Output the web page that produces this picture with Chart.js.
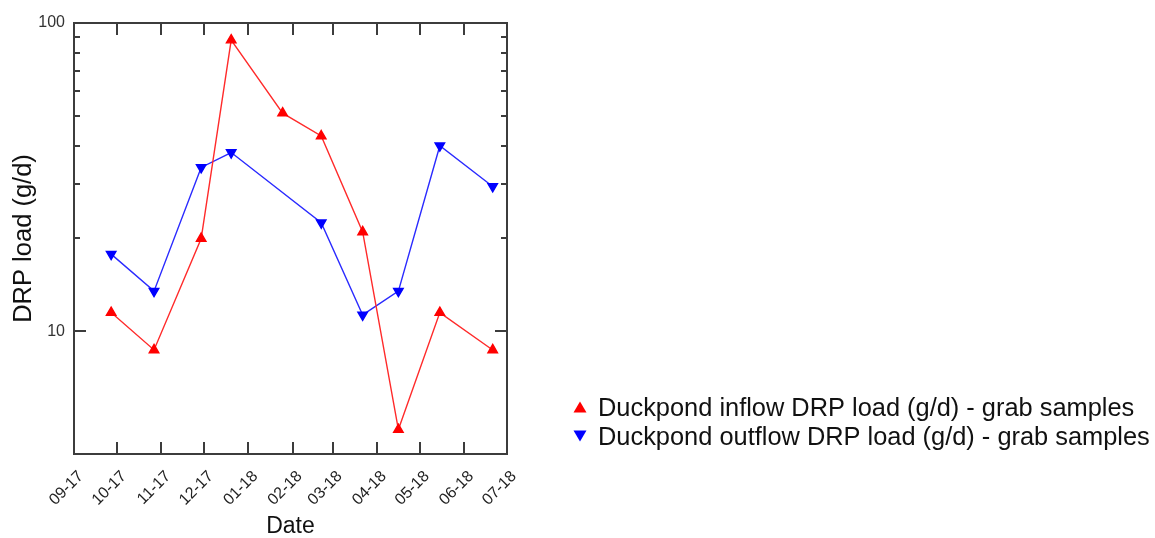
<!DOCTYPE html>
<html>
<head>
<meta charset="utf-8">
<script src="https://cdn.jsdelivr.net/npm/chart.js@4.4.1/dist/chart.umd.min.js"></script>
<style>
  body { margin: 0; background: #fff; }
  #wrap { width: 1155px; height: 538px; }
</style>
</head>
<body>
<div id="wrap"><canvas id="drpChart" width="1155" height="538"></canvas></div>
<script>
// sample dates and loads
const sampleDates = ['2017-09-27', '2017-10-27', '2017-11-29', '2017-12-20', '2018-01-25',
  '2018-02-21', '2018-03-22', '2018-04-16', '2018-05-15', '2018-06-21'];
const inflowLoad = [11.5, 8.7, 20, 88, 51, 43, 21, 4.8, 11.5, 8.7];
const outflowLoad = [17.8, 13.5, 34, 38, null, 22.5, 11.3, 13.5, 40, 29.5];

// month ticks on the x axis
const monthTicks = ['2017-09-01', '2017-10-01', '2017-11-01', '2017-12-01', '2018-01-01', '2018-02-01',
  '2018-03-01', '2018-04-01', '2018-05-01', '2018-06-01', '2018-07-01'];
const monthLabels = ['09-17', '10-17', '11-17', '12-17', '01-18', '02-18', '03-18', '04-18', '05-18', '06-18', '07-18'];

const yLabelled = [10, 100];
const yMinorTicks = [20, 30, 40, 50, 60, 70, 80, 90];

const toMs = s => Date.parse(s);

function makePoints(values) {
  return sampleDates.map((d, i) => ({x: toMs(d), y: values[i]}));
}

Chart.defaults.font.family = '"Liberation Sans", Arial, sans-serif';
Chart.defaults.color = '#222';

const frameColor = '#3c3c3c';

// box round the plot with inward ticks, like the original
const framePlugin = {
  id: 'frame',
  afterDatasetsDraw(chart) {
    const {ctx, chartArea: a, scales: {x, y}} = chart;
    ctx.save();
    ctx.strokeStyle = frameColor;
    ctx.lineWidth = 2;
    ctx.beginPath();
    monthTicks.forEach(t => {
      const px = Math.round(x.getPixelForValue(toMs(t)));
      ctx.moveTo(px, a.bottom); ctx.lineTo(px, a.bottom - 12);
      ctx.moveTo(px, a.top); ctx.lineTo(px, a.top + 12);
    });
    yLabelled.forEach(v => {
      const py = Math.round(y.getPixelForValue(v));
      ctx.moveTo(a.left, py); ctx.lineTo(a.left + 12, py);
      ctx.moveTo(a.right, py); ctx.lineTo(a.right - 12, py);
    });
    yMinorTicks.forEach(v => {
      const py = Math.round(y.getPixelForValue(v));
      ctx.moveTo(a.left, py); ctx.lineTo(a.left + 6, py);
      ctx.moveTo(a.right, py); ctx.lineTo(a.right - 6, py);
    });
    ctx.stroke();
    ctx.strokeRect(a.left, a.top, a.right - a.left, a.bottom - a.top);
    ctx.restore();
  }
};

// legend sits bottom right, outside the plot
const legendPlugin = {
  id: 'sideLegend',
  afterDraw(chart) {
    const {ctx} = chart;
    const rows = [407, 436];
    ctx.save();
    ctx.font = '25.4px "Liberation Sans", Arial, sans-serif';
    ctx.textBaseline = 'middle';
    ctx.textAlign = 'left';
    chart.data.datasets.forEach((ds, i) => {
      const cy = rows[i];
      const cx = 580;
      ctx.fillStyle = ds.pointBackgroundColor;
      ctx.beginPath();
      if (ds.pointRotation === 180) {
        ctx.moveTo(cx - 6.5, cy - 5.5); ctx.lineTo(cx + 6.5, cy - 5.5); ctx.lineTo(cx, cy + 5.5);
      } else {
        ctx.moveTo(cx - 6.5, cy + 5.5); ctx.lineTo(cx + 6.5, cy + 5.5); ctx.lineTo(cx, cy - 5.5);
      }
      ctx.closePath();
      ctx.fill();
      ctx.fillStyle = '#111';
      ctx.fillText(ds.label, 598, cy + 2);
    });
    ctx.restore();
  }
};

new Chart(document.getElementById('drpChart'), {
  type: 'line',
  data: {
    datasets: [{
      label: 'Duckpond inflow DRP load (g/d) - grab samples',
      data: makePoints(inflowLoad),
      borderColor: '#ff2a2a',
      backgroundColor: '#ff0000',
      pointBackgroundColor: '#ff0000',
      pointBorderColor: '#ff0000',
      pointStyle: 'triangle',
      pointRotation: 0,
      pointRadius: 5.5,
      borderWidth: 1.4,
      tension: 0
    }, {
      label: 'Duckpond outflow DRP load (g/d) - grab samples',
      data: makePoints(outflowLoad),
      borderColor: '#2a2aff',
      backgroundColor: '#0000ff',
      pointBackgroundColor: '#0000ff',
      pointBorderColor: '#0000ff',
      pointStyle: 'triangle',
      pointRotation: 180,
      pointRadius: 5.5,
      borderWidth: 1.4,
      spanGaps: true,
      tension: 0
    }]
  },
  options: {
    responsive: false,
    animation: false,
    layout: {padding: {top: 23, right: 648, bottom: 0, left: 0}},
    plugins: {
      legend: {display: false},
      tooltip: {enabled: false}
    },
    scales: {
      x: {
        type: 'linear',
        min: toMs(monthTicks[0]),
        max: toMs(monthTicks[monthTicks.length - 1]),
        grid: {display: false, drawTicks: false},
        border: {display: false},
        afterBuildTicks: scale => {
          scale.ticks = monthTicks.map(t => ({value: toMs(t)}));
        },
        afterFit: scale => { scale.height = 84; },
        ticks: {
          autoSkip: false,
          minRotation: 45,
          maxRotation: 45,
          padding: 13,
          labelOffset: 7,
          color: '#222',
          font: {size: 16},
          callback: (v, i) => monthLabels[i]
        },
        title: {
          display: true,
          text: 'Date',
          color: '#111',
          font: {size: 23},
          padding: {top: 0, bottom: -2}
        }
      },
      y: {
        type: 'logarithmic',
        min: 4,
        max: 100,
        grid: {display: false, drawTicks: false},
        border: {display: false},
        afterFit: scale => { scale.width = 74; },
        ticks: {
          autoSkip: false,
          padding: 9,
          color: '#333',
          font: {size: 16},
          callback: v => (yLabelled.includes(v) ? String(v) : '')
        },
        title: {
          display: true,
          text: 'DRP load (g/d)',
          color: '#111',
          font: {size: 25.5},
          padding: {top: 9, bottom: 0}
        }
      }
    }
  },
  plugins: [framePlugin, legendPlugin]
});
</script>
</body>
</html>
